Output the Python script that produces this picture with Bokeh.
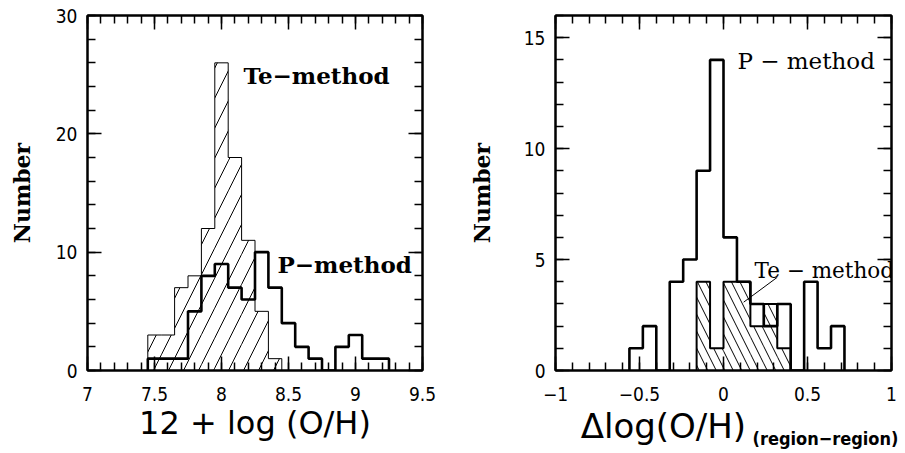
import numpy as np
from bokeh.plotting import figure
from bokeh.models import FixedTicker, LinearAxis, Label, Range1d, Title
from bokeh.layouts import row
from bokeh.embed import file_html
from bokeh.resources import INLINE

# ---------------- data ----------------
# Left panel: 12 + log(O/H), bins of 0.1
te_left_edges = [7.45, 7.55, 7.65, 7.75, 7.85, 7.95, 8.05, 8.15, 8.25, 8.35, 8.45]
te_left_counts = [3, 3, 7, 8, 12, 26, 18, 11, 5, 1]
p_left_edges = [7.45, 7.55, 7.65, 7.75, 7.85, 7.95, 8.05, 8.15, 8.25, 8.35,
                8.45, 8.55, 8.65, 8.75, 8.85, 8.95, 9.05, 9.15, 9.25]
p_left_counts = [1, 1, 1, 5, 8, 9, 7, 6, 10, 7, 4, 2, 1, 0, 2, 3, 1, 1]

# Right panel: delta log(O/H) (region-region), bins of 0.08
p_right_edges = [-0.56, -0.48, -0.40, -0.32, -0.24, -0.16, -0.08, 0.0, 0.08,
                 0.16, 0.24, 0.32, 0.40, 0.48, 0.56, 0.64, 0.72]
p_right_counts = [1, 2, 0, 4, 5, 9, 14, 6, 4, 3, 2, 3, 0, 4, 1, 2]
te_right_edges = [-0.16, -0.08, 0.0, 0.08, 0.16, 0.24, 0.32, 0.40]
te_right_counts = [4, 1, 4, 4, 2, 3, 1]

left_xticks = [7, 7.5, 8, 8.5, 9, 9.5]
left_xlabels = ["7", "7.5", "8", "8.5", "9", "9.5"]
left_yticks = [0, 10, 20, 30]
right_xticks = [-1, -0.5, 0, 0.5, 1]
right_xlabels = ["\u22121", "\u22120.5", "0", "0.5", "1"]
right_yticks = [0, 5, 10, 15]

TICK_FONT = "DejaVu Sans Condensed"
LABEL_FONT = "DejaVu Sans"
SERIF = "DejaVu Serif"


def outline(edges, counts):
    xs, ys = [edges[0]], [0]
    for i, c in enumerate(counts):
        xs += [edges[i], edges[i + 1]]
        ys += [c, c]
    xs.append(edges[-1])
    ys.append(0)
    return xs, ys


def style_axis(ax, ticker, ticks, labels=None, show=True, standoff=10):
    ax.ticker = ticker
    ax.major_tick_in = 14
    ax.major_tick_out = 0
    ax.minor_tick_in = 8
    ax.minor_tick_out = 0
    ax.axis_line_width = 2
    ax.axis_line_color = "black"
    ax.major_tick_line_width = 1.5
    ax.minor_tick_line_width = 1.5
    ax.major_tick_line_color = "black"
    ax.minor_tick_line_color = "black"
    if show:
        ax.major_label_text_font = TICK_FONT
        ax.major_label_text_font_size = "19px"
        ax.major_label_text_color = "black"
        ax.major_label_standoff = standoff
        if labels is not None:
            ax.major_label_overrides = dict(zip(ticks, labels))
    else:
        ax.major_label_overrides = {t: "" for t in ticks}
        ax.major_label_text_font_size = "1px"
        ax.major_label_standoff = 0


def make_fig(width, height, xr, yr, borders):
    p = figure(width=width, height=height, x_range=Range1d(*xr), y_range=Range1d(*yr),
               output_backend="svg", toolbar_location=None,
               min_border_left=borders[0], min_border_right=borders[1],
               min_border_top=borders[2], min_border_bottom=borders[3])
    p.grid.visible = False
    p.outline_line_color = "black"
    p.outline_line_width = 2
    p.background_fill_color = "white"
    p.border_fill_color = "white"
    return p


def ylabel(ax, text, standoff):
    ax.axis_label = text
    ax.axis_label_text_font = SERIF
    ax.axis_label_text_font_style = "bold"
    ax.axis_label_text_font_size = "22px"
    ax.axis_label_text_color = "black"
    ax.axis_label_standoff = standoff


# ---------------- left panel ----------------
p1 = make_fig(458, 453, (7, 9.5), (0, 30), (87, 36, 15, 82))
xt1 = FixedTicker(ticks=left_xticks, minor_ticks=list(np.round(np.arange(7, 9.51, 0.1), 2)))
yt1 = FixedTicker(ticks=left_yticks, minor_ticks=list(range(0, 31, 2)))
style_axis(p1.xaxis[0], xt1, left_xticks, left_xlabels, standoff=16)
style_axis(p1.yaxis[0], yt1, left_yticks)
ylabel(p1.yaxis[0], "Number", 18)
p1.xaxis[0].axis_label = "12 + log (O/H)"
p1.xaxis[0].axis_label_text_font = LABEL_FONT
p1.xaxis[0].axis_label_text_font_style = "normal"
p1.xaxis[0].axis_label_text_font_size = "32px"
p1.xaxis[0].axis_label_text_color = "black"
p1.xaxis[0].axis_label_standoff = 0
ax_top = LinearAxis()
style_axis(ax_top, xt1, left_xticks, show=False)
p1.add_layout(ax_top, "above")
ax_right = LinearAxis()
style_axis(ax_right, yt1, left_yticks, show=False)
p1.add_layout(ax_right, "right")

p1.quad(left=te_left_edges[:-1], right=te_left_edges[1:], bottom=0, top=te_left_counts,
        fill_color=None, line_color=None, hatch_pattern="/", hatch_color="black",
        hatch_weight=1, hatch_scale=30)
xs, ys = outline(te_left_edges, te_left_counts)
p1.line(xs, ys, line_color="black", line_width=1)
xs, ys = outline(p_left_edges, p_left_counts)
p1.line(xs, ys, line_color="black", line_width=2.6)

p1.add_layout(Label(x=8.164, y=24.9, text="Te\u2212method", text_font=SERIF,
                    text_font_style="bold", text_font_size="23px", text_color="black",
                    text_baseline="middle", text_align="left"))
p1.add_layout(Label(x=8.418, y=8.93, text="P\u2212method", text_font=SERIF,
                    text_font_style="bold", text_font_size="23px", text_color="black",
                    text_baseline="middle", text_align="left"))

# ---------------- right panel ----------------
p2 = make_fig(445, 453, (-1, 1), (0, 16), (97, 12, 15, 83))
xt2 = FixedTicker(ticks=right_xticks, minor_ticks=list(np.round(np.arange(-1, 1.01, 0.1), 2)))
yt2 = FixedTicker(ticks=right_yticks, minor_ticks=list(range(0, 17, 1)))
style_axis(p2.xaxis[0], xt2, right_xticks, right_xlabels, standoff=16)
style_axis(p2.yaxis[0], yt2, right_yticks)
ylabel(p2.yaxis[0], "Number", 26)
ax_top2 = LinearAxis()
style_axis(ax_top2, xt2, right_xticks, show=False)
p2.add_layout(ax_top2, "above")
ax_right2 = LinearAxis()
style_axis(ax_right2, yt2, right_yticks, show=False)
p2.add_layout(ax_right2, "right")

p2.quad(left=te_right_edges[:-1], right=te_right_edges[1:], bottom=0, top=te_right_counts,
        fill_color=None, line_color=None, hatch_pattern="\\", hatch_color="black",
        hatch_weight=1, hatch_scale=17)
xs, ys = outline(te_right_edges, te_right_counts)
p2.line(xs, ys, line_color="black", line_width=2)
xs, ys = outline(p_right_edges, p_right_counts)
p2.line(xs, ys, line_color="black", line_width=2.6)

p2.add_layout(Label(x=0.083, y=13.95, text="P \u2212 method", text_font=SERIF,
                    text_font_size="23px", text_color="black",
                    text_baseline="middle", text_align="left"))
p2.add_layout(Label(x=0.185, y=4.5, text="Te \u2212 method", text_font=SERIF,
                    text_font_size="21.5px", text_color="black",
                    text_baseline="middle", text_align="left"))
p2.segment(x0=[0.32], y0=[4.2], x1=[0.12], y1=[3.08], line_color="black", line_width=1)

# x label: main part as a label in the lower border, subscript as a title
p2.add_layout(Label(x=-0.85, y=-2.48, text="\u0394log(O/H)", text_font=LABEL_FONT,
                    text_font_style="normal", text_font_size="34px", text_color="black",
                    text_baseline="middle", text_align="left"), "below")
p2.add_layout(Title(text="(region\u2212region)", align="left", offset=197,
                    vertical_align="top", standoff=-32, text_font=TICK_FONT,
                    text_font_style="bold", text_font_size="18px",
                    text_color="black"), "below")

layout = row(p1, p2, spacing=0)
open("out.html", "w").write(file_html(layout, INLINE))
